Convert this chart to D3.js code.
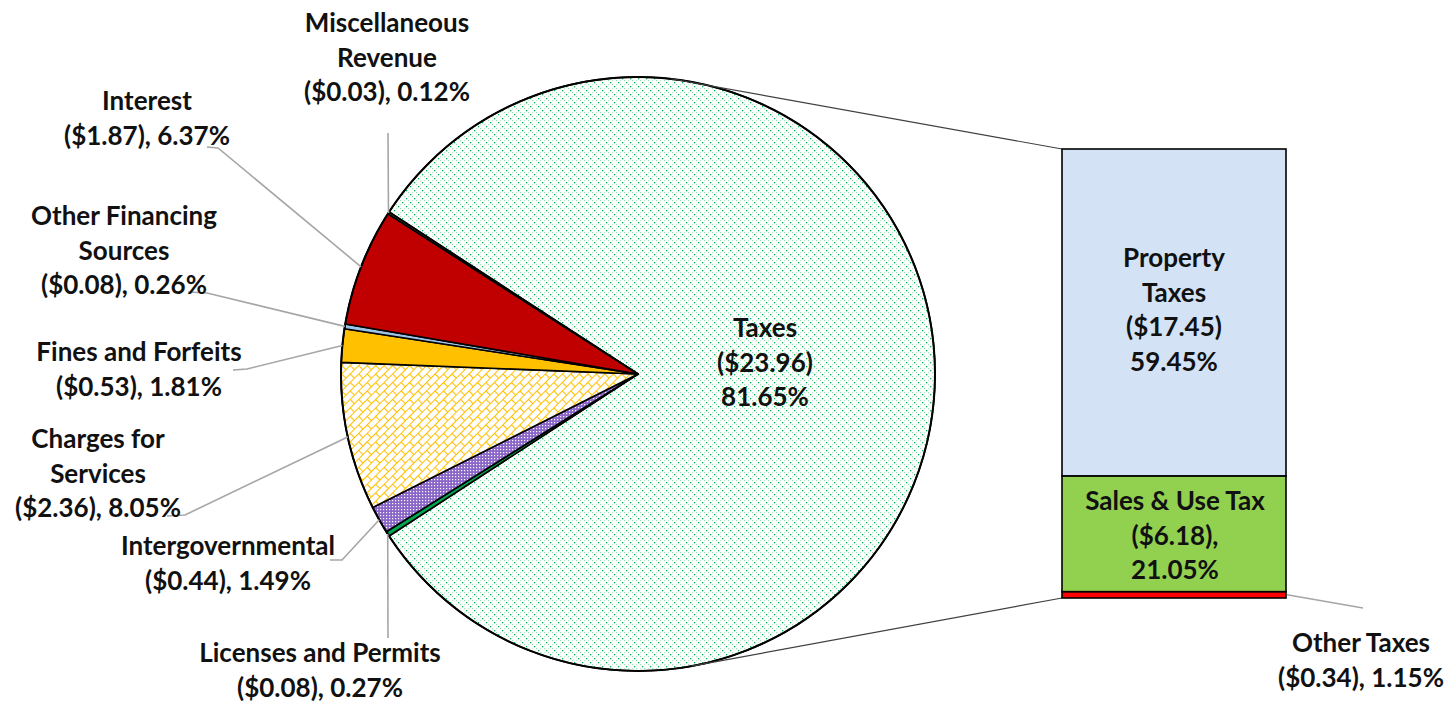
<!DOCTYPE html>
<html>
<head>
<meta charset="utf-8">
<script src="https://cdn.jsdelivr.net/npm/d3@7"></script>
<style>
  body { margin: 0; background: #fff; }
  text { font-family: Lato, "Open Sans", sans-serif; font-weight: 700; fill: #111; }
</style>
</head>
<body>
<div id="container"></div>
<script>
// pie slices, clockwise starting with Taxes
var categories = ["Taxes", "Licenses and Permits", "Intergovernmental", "Charges for Services",
                  "Fines and Forfeits", "Other Financing Sources", "Interest", "Miscellaneous Revenue"];
var amounts = [23.96, 0.08, 0.44, 2.36, 0.53, 0.08, 1.87, 0.03];
var percents = [81.65, 0.27, 1.49, 8.05, 1.81, 0.26, 6.37, 0.12];
// how the names wrap in the labels
var nameLines = [["Taxes"], ["Licenses and Permits"], ["Intergovernmental"], ["Charges for", "Services"],
                 ["Fines and Forfeits"], ["Other Financing", "Sources"], ["Interest"], ["Miscellaneous", "Revenue"]];

// breakdown of Taxes (bar, top to bottom)
var barCats = ["Property Taxes", "Sales & Use Tax", "Other Taxes"];
var barAmounts = [17.45, 6.18, 0.34];
var barPercents = [59.45, 21.05, 1.15];

var width = 1450, height = 701;
var cx = 638, cy = 374, R = 297;
var barX = 1062, barW = 224, barTop = 149, barBottom = 598;
var lineH = 34.5;

var fills = ["url(#pTaxes)", "#00a651", "url(#pIntergov)", "url(#pCharges)",
             "#ffc000", "#9dc3e6", "#c00000", "#3a3a3a"];
var barFills = ["#d3e3f5", "#92d050", "#ff0000"];

// label centers (first line) and leader elbows, layout only
var labelPos = [[765, 327], [320, 652], [228, 545], [98, 438], [139, 351], [124, 215], [147, 100], [387, 22]];
var leaderPts = [null, [[388, 638]], [[330, 560], [342, 560]], [[167, 516], [185, 515]],
                 [[233, 370], [247, 369]], [[188, 292], [207, 293]], [[207, 147], [218, 148]], [[388, 133]]];
var barLabelPos = [[1174, 257], [1175, 500], [1361, 642]];

var fmt = d3.format(".2f");

var svg = d3.select("#container").append("svg")
  .attr("width", width).attr("height", height);

// patterns
var defs = svg.append("defs");
var pt = defs.append("pattern").attr("id", "pTaxes").attr("patternUnits", "userSpaceOnUse")
  .attr("width", 8).attr("height", 8);
pt.append("rect").attr("width", 8).attr("height", 8).attr("fill", "#fff");
[[0, 0, "#00b050"], [4, 4, "#00b050"], [2, 2, "#a8e2c2"], [6, 6, "#a8e2c2"],
 [2, 6, "#c4ecd6"], [6, 2, "#c4ecd6"]].forEach(function(d){
  pt.append("rect").attr("x", d[0]).attr("y", d[1]).attr("width", 1.3).attr("height", 1.3).attr("fill", d[2]);
});

var pi = defs.append("pattern").attr("id", "pIntergov").attr("patternUnits", "userSpaceOnUse")
  .attr("width", 3).attr("height", 3);
pi.append("rect").attr("width", 3).attr("height", 3).attr("fill", "#8a66c8");
pi.append("rect").attr("width", 1.2).attr("height", 1.2).attr("fill", "#ffffff");

var pc = defs.append("pattern").attr("id", "pCharges").attr("patternUnits", "userSpaceOnUse")
  .attr("width", 12).attr("height", 12).attr("patternTransform", "rotate(-45)");
pc.append("rect").attr("width", 12).attr("height", 12).attr("fill", "#fff");
pc.append("path")
  .attr("d", "M0,0.5H12M0,6.5H12M0.5,0.5V6.5M6.5,6.5V12")
  .attr("stroke", "#ffc000").attr("stroke-width", 1.1).attr("fill", "none");

// pie
var total = d3.sum(percents);
var startA = Math.PI / 2 - Math.PI * percents[0] / total;
var pie = d3.pie().sort(null).value(function(d){ return d; })
  .startAngle(startA).endAngle(startA + 2 * Math.PI);
var arcs = pie(percents);
var arc = d3.arc().innerRadius(0).outerRadius(R);
var rimArc = d3.arc().innerRadius(R).outerRadius(R);

var gPie = svg.append("g").attr("transform", "translate(" + cx + "," + cy + ")");

// connector lines from bar corners, tangent to the circle
function tangent(px, py, side){
  var dx = px - cx, dy = py - cy, d = Math.sqrt(dx * dx + dy * dy);
  var a = Math.atan2(dy, dx) + side * Math.acos(R / d);
  return [cx + R * Math.cos(a), cy + R * Math.sin(a)];
}
var tTop = tangent(barX, barTop, -1), tBot = tangent(barX, barBottom, 1);
svg.append("line").attr("x1", tTop[0] - 20).attr("y1", tTop[1] - 3).attr("x2", barX).attr("y2", barTop)
  .attr("stroke", "#404040").attr("stroke-width", 1.2);
svg.append("line").attr("x1", tBot[0]).attr("y1", tBot[1]).attr("x2", barX).attr("y2", barBottom)
  .attr("stroke", "#404040").attr("stroke-width", 1.2);

gPie.selectAll("path.slice")
  .data(arcs)
  .enter().append("path")
  .attr("class", "slice")
  .attr("d", arc)
  .attr("fill", function(d, i){ return fills[i]; })
  .attr("stroke", "#000")
  .attr("stroke-width", 1.6)
  .attr("stroke-linejoin", "round");

gPie.append("circle").attr("r", R).attr("fill", "none").attr("stroke", "#000").attr("stroke-width", 2);

// leader lines
var gLead = svg.append("g");
arcs.forEach(function(d, i){
  if (!leaderPts[i]) return;
  var c = rimArc.centroid(d);
  var pts = leaderPts[i].concat([[cx + c[0], cy + c[1]]]);
  gLead.append("path")
    .attr("d", d3.line()(pts))
    .attr("fill", "none").attr("stroke", "#a6a6a6").attr("stroke-width", 1.6);
});

// bar stack
var yBar = d3.scaleLinear().domain([0, d3.sum(barAmounts)]).range([barBottom, barTop]);
var stackData = [];
var acc = 0;
for (var i = barAmounts.length - 1; i >= 0; i--) {
  stackData.push({ i: i, y0: acc, y1: acc + barAmounts[i] });
  acc += barAmounts[i];
}
var gBar = svg.append("g");
gBar.selectAll("rect")
  .data(stackData)
  .enter().append("rect")
  .attr("x", barX)
  .attr("width", barW)
  .attr("y", function(d){ return yBar(d.y1); })
  .attr("height", function(d){ return yBar(d.y0) - yBar(d.y1); })
  .attr("fill", function(d){ return barFills[d.i]; })
  .attr("stroke", "#000")
  .attr("stroke-width", 1.6);

// Other Taxes leader
var otherSeg = stackData[0];
gLead.append("path")
  .attr("d", d3.line()([[barX + barW + 1, (yBar(otherSeg.y0) + yBar(otherSeg.y1)) / 2], [1363, 608]]))
  .attr("fill", "none").attr("stroke", "#a6a6a6").attr("stroke-width", 1.6);

// labels
function drawLabel(lines, pos){
  var t = svg.append("text")
    .attr("text-anchor", "middle")
    .style("font-size", "26px");
  lines.forEach(function(s, k){
    t.append("tspan").attr("x", pos[0]).attr("y", pos[1] + k * lineH)
      .attr("dominant-baseline", "central").text(s);
  });
}

categories.forEach(function(c, i){
  var lines;
  if (i === 0) lines = nameLines[i].concat(["($" + fmt(amounts[i]) + ")", fmt(percents[i]) + "%"]);
  else lines = nameLines[i].concat(["($" + fmt(amounts[i]) + "), " + fmt(percents[i]) + "%"]);
  drawLabel(lines, labelPos[i]);
});

drawLabel(["Property", "Taxes", "($" + fmt(barAmounts[0]) + ")", fmt(barPercents[0]) + "%"], barLabelPos[0]);
drawLabel(["Sales & Use Tax", "($" + fmt(barAmounts[1]) + "),", fmt(barPercents[1]) + "%"], barLabelPos[1]);
drawLabel(["Other Taxes", "($" + fmt(barAmounts[2]) + "), " + fmt(barPercents[2]) + "%"], barLabelPos[2]);
</script>
</body>
</html>
